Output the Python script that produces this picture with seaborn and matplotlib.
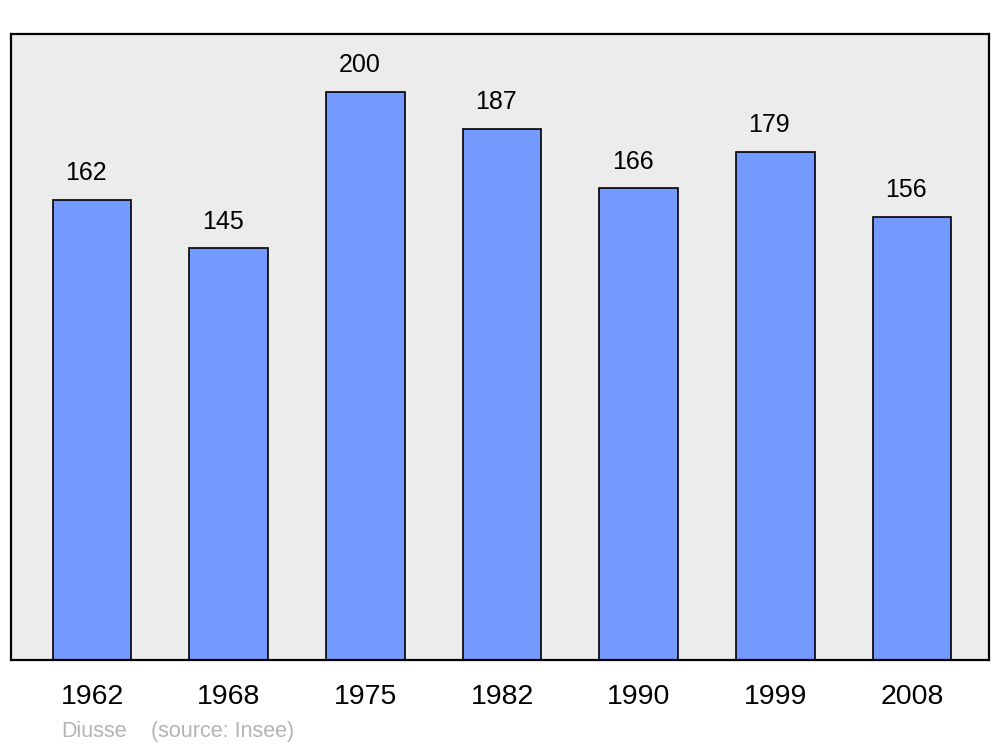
import matplotlib
matplotlib.use("Agg")
import matplotlib.pyplot as plt
import seaborn as sns
import pandas as pd

years = ["1962", "1968", "1975", "1982", "1990", "1999", "2008"]
population = [162, 145, 200, 187, 166, 179, 156]

sns.set_style("white")
plt.rcParams['font.family'] = ['Liberation Sans', 'DejaVu Sans']
plt.rcParams['text.color'] = 'black'
plt.rcParams['xtick.color'] = 'black'

df = pd.DataFrame({"year": years, "pop": population})

fig = plt.figure(figsize=(10, 7.47), dpi=100)
ax = fig.add_axes([0.011, 0.1165, 0.978, 0.838])
ax.set_facecolor("#ececec")

sns.barplot(data=df, x="year", y="pop", color="#7499ff", saturation=1,
            width=0.575, edgecolor="black", linewidth=1.2, ax=ax)

# value labels above bars (sit slightly left of centre like the original)
for i, v in enumerate(population):
    ax.annotate(str(v), (i, v), xytext=(-4.3, 10.5), textcoords="offset points",
                ha="center", va="bottom", fontsize=18, color="black")

ax.set_xlim(-0.593, 6.563)
ax.set_ylim(0, 220.4)
ax.set_xlabel("")
ax.set_ylabel("")
ax.set_yticks([])
ax.tick_params(axis="x", length=0, labelsize=20.5, pad=17.5, labelcolor="black")
for s in ax.spines.values():
    s.set_visible(True)
    s.set_linewidth(1.6)
    s.set_color("black")

fig.text(0.061, 0.014, "Diusse", color="#b4b4b4", fontsize=15.5)
fig.text(0.151, 0.014, "(source: Insee)", color="#b4b4b4", fontsize=15.5)

fig.savefig("out.png", dpi=100)
